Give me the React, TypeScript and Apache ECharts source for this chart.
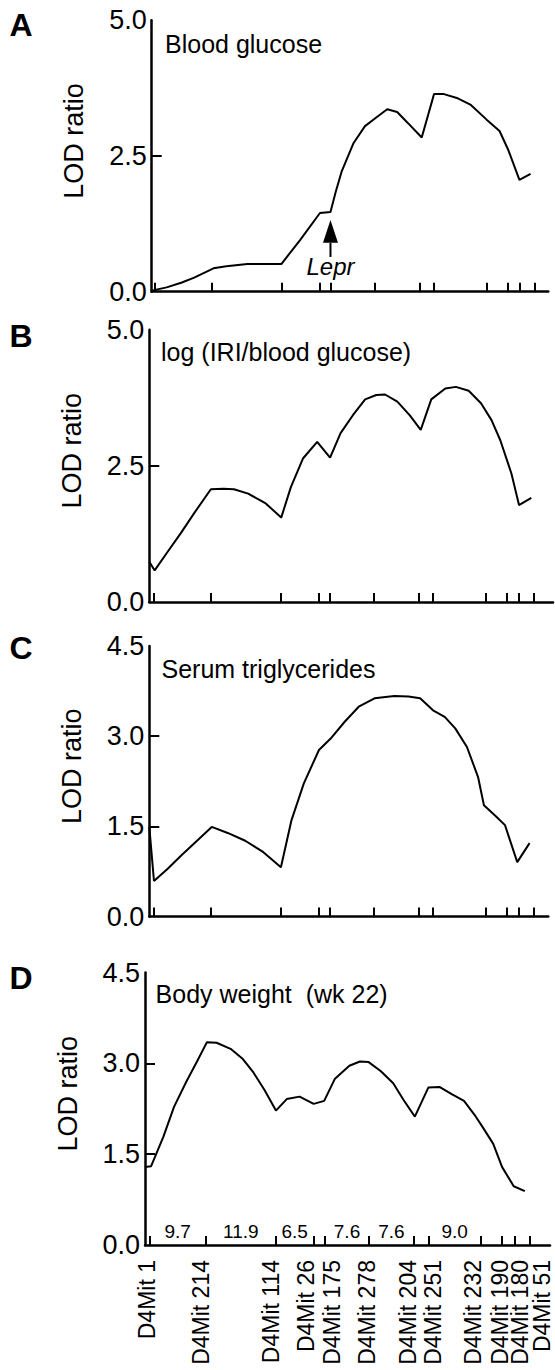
import React, { useEffect, useRef } from "react";
import * as echarts from "echarts";

// ---------- data ----------
const markerNames = [
  "D4Mit 1", "D4Mit 214", "D4Mit 114", "D4Mit 26", "D4Mit 175", "D4Mit 278",
  "D4Mit 204", "D4Mit 251", "D4Mit 232", "D4Mit 190", "D4Mit 180", "D4Mit 51",
];
const markerCM = [0, 9.7, 21.6, 28.1, 30.0, 37.6, 45.2, 47.7, 56.7, 60.3, 62.4, 65.0];

const intervalText = ["9.7", "11.9", "6.5", "7.6", "7.6", "9.0"];
const intervalFrom = [0, 1, 2, 4, 5, 7];
const intervalTo = [1, 2, 3, 5, 6, 8];

const glucoseCM = [-0.56, 2.0, 4.6, 6.7, 10.0, 12.2, 15.8, 18.5, 21.6, 24.8, 28.2, 30.0, 30.9, 31.9, 33.9, 35.9, 37.6, 39.7, 41.4, 43.3, 45.6, 47.7, 49.4, 51.6, 54.0, 56.7, 58.9, 60.4, 62.3, 64.2];
const glucoseLOD = [0.02, 0.08, 0.17, 0.26, 0.43, 0.47, 0.51, 0.51, 0.51, 0.95, 1.45, 1.47, 1.84, 2.21, 2.73, 3.05, 3.19, 3.36, 3.31, 3.10, 2.84, 3.64, 3.64, 3.57, 3.44, 3.17, 2.96, 2.61, 2.06, 2.17];

const iriCM = [-0.8, 0.12, 2.13, 4.56, 6.99, 9.72, 11.85, 13.67, 16.1, 19.1, 21.75, 23.4, 25.5, 27.9, 30.1, 31.9, 34.0, 36.1, 38.0, 39.5, 41.6, 43.7, 45.6, 47.4, 49.8, 51.6, 53.8, 55.9, 57.7, 59.2, 61.1, 62.4, 64.5];
const iriLOD = [0.74, 0.58, 0.89, 1.26, 1.65, 2.07, 2.08, 2.07, 1.99, 1.81, 1.55, 2.11, 2.64, 2.94, 2.65, 3.10, 3.43, 3.72, 3.80, 3.81, 3.68, 3.43, 3.16, 3.72, 3.92, 3.95, 3.88, 3.65, 3.34, 2.97, 2.36, 1.78, 1.91];

const tgCM = [-0.8, 0.0, 2.3, 4.7, 7.45, 9.87, 12.6, 15.6, 18.7, 21.7, 23.5, 25.6, 28.2, 30.2, 32.6, 35.0, 37.7, 41.1, 43.5, 45.5, 47.7, 49.7, 51.5, 53.5, 55.4, 56.4, 58.3, 60.0, 62.1, 64.2];
const tgLOD = [1.49, 0.59, 0.79, 1.02, 1.27, 1.49, 1.39, 1.26, 1.07, 0.82, 1.60, 2.21, 2.77, 2.96, 3.24, 3.49, 3.63, 3.67, 3.66, 3.63, 3.43, 3.32, 3.13, 2.82, 2.32, 1.85, 1.68, 1.52, 0.905, 1.22];

const bwCM = [-0.73, 0.3, 2.42, 4.23, 6.35, 8.16, 9.86, 11.5, 13.9, 16.0, 17.8, 19.7, 21.65, 23.5, 25.7, 28.1, 29.9, 31.7, 34.2, 36.0, 37.5, 39.6, 41.7, 43.5, 45.4, 47.7, 49.6, 51.7, 53.8, 55.6, 57.1, 58.8, 60.3, 62.3, 64.2];
const bwLOD = [1.29, 1.30, 1.79, 2.28, 2.70, 3.03, 3.35, 3.34, 3.24, 3.07, 2.85, 2.56, 2.22, 2.41, 2.45, 2.33, 2.38, 2.74, 2.96, 3.03, 3.02, 2.87, 2.67, 2.39, 2.12, 2.60, 2.61, 2.49, 2.38, 2.15, 1.93, 1.67, 1.29, 0.97, 0.89];

const panelTitles = ["Blood glucose", "log (IRI/blood glucose)", "Serum triglycerides", "Body weight  (wk 22)"];
const panelLetters = ["A", "B", "C", "D"];
const yMaxes = [5.0, 5.0, 4.5, 4.5];
const ySteps = [2.5, 2.5, 1.5, 1.5];
const yInnerTicks = [[2.5], [2.5], [1.5, 3.0], [1.5, 3.0]];
const yName = "LOD ratio";

const leprLabel = "Lepr";
const leprMarkerIndex = 4; // D4Mit 175
const leprArrowLOD = [0.64, 0.9, 1.32]; // stem end, head base, tip
const leprTextLOD = 0.47;
const intervalLabelLOD = 0.22;

// ---------- layout / style ----------
const FONT = "'Liberation Sans', Arial, Helvetica, sans-serif";
const PX_PER_CM = 5.85;
const GRIDS = [
  { left: 151.7, top: 20.3, width: 396.6, height: 271.4, xmin: -0.56 },
  { left: 149.3, top: 329.7, width: 403.7, height: 272.3, xmin: -0.8 },
  { left: 149.3, top: 646, width: 399, height: 270.5, xmin: -0.8 },
  { left: 145, top: 972.5, width: 405, height: 272.5, xmin: -0.73 },
];
const TITLE_POS = [[165, 44], [161, 351.7], [161.5, 669], [155.6, 994]];
const LETTER_POS = [[21, 25], [21, 336], [21, 647.5], [21, 978]];
const MARKER_LABEL_NUDGE = [-2, -5, -5, -8, 7, -2, -6, 5, -7.5, -2.5, 6, 12];

const seriesCM = [glucoseCM, iriCM, tgCM, bwCM];
const seriesLOD = [glucoseLOD, iriLOD, tgLOD, bwLOD];

export default function App() {
  const ref = useRef<HTMLDivElement | null>(null);

  useEffect(() => {
    if (!ref.current) return;
    const chart = echarts.init(ref.current, null, { renderer: "svg" });

    const option: any = {
      animation: false,
      backgroundColor: "#ffffff",
      textStyle: { fontFamily: FONT, color: "#000" },
      grid: GRIDS.map((g) => ({
        left: g.left,
        top: g.top,
        width: g.width,
        height: g.height,
        containLabel: false,
        outerBoundsMode: "none",
      })),
      xAxis: GRIDS.map((g, i) => ({
        type: "value",
        gridIndex: i,
        min: g.xmin,
        max: g.xmin + g.width / PX_PER_CM,
        axisLine: { show: true, onZero: false, lineStyle: { color: "#000", width: 2.5 } },
        axisTick: {
          show: true,
          inside: true,
          length: 9,
          customValues: markerCM,
          lineStyle: { color: "#000", width: 2 },
        },
        axisLabel: { show: false },
        splitLine: { show: false },
      })),
      yAxis: GRIDS.map((g, i) => ({
        type: "value",
        gridIndex: i,
        min: 0,
        max: yMaxes[i],
        interval: ySteps[i],
        axisLine: { show: true, onZero: false, lineStyle: { color: "#000", width: 2.5 } },
        axisTick: {
          show: true,
          inside: true,
          length: 10,
          customValues: yInnerTicks[i],
          lineStyle: { color: "#000", width: 2 },
        },
        axisLabel: {
          show: true,
          fontSize: 27,
          color: "#000",
          margin: 5,
          fontFamily: FONT,
          formatter: (v: number) => v.toFixed(1),
        },
        splitLine: { show: false },
        name: yName,
        nameLocation: "middle",
        nameRotate: 90,
        nameGap: 64,
        nameTextStyle: { fontSize: 27, color: "#000", fontFamily: FONT, padding: [0, 0, 0, 30] },
      })),
      series: seriesCM.map((cm, i) => ({
        type: "line",
        xAxisIndex: i,
        yAxisIndex: i,
        data: cm.map((x, k) => [x, seriesLOD[i][k]]),
        showSymbol: false,
        symbol: "none",
        silent: true,
        lineStyle: { color: "#000", width: 2 },
      })),
    };
    chart.setOption(option);

    const txt = (x: number, y: number, text: string, extra: any = {}, elExtra: any = {}) => ({
      type: "text",
      x,
      y,
      silent: true,
      ...elExtra,
      style: {
        text,
        fill: "#000",
        fontFamily: FONT,
        align: "left",
        textAlign: "left",
        verticalAlign: "middle",
        textVerticalAlign: "middle",
        ...extra,
      },
    });

    const graphics: any[] = [];
    panelLetters.forEach((L, i) => {
      graphics.push(
        txt(LETTER_POS[i][0], LETTER_POS[i][1], L, {
          fontSize: 32,
          fontWeight: "bold",
          align: "center",
          textAlign: "center",
        })
      );
    });
    panelTitles.forEach((t, i) => {
      graphics.push(txt(TITLE_POS[i][0], TITLE_POS[i][1], t, { fontSize: 25 }));
    });

    // Lepr arrow (panel A)
    const lx = markerCM[leprMarkerIndex];
    const pStem = chart.convertToPixel({ gridIndex: 0 }, [lx, leprArrowLOD[0]]) as number[];
    const pBase = chart.convertToPixel({ gridIndex: 0 }, [lx, leprArrowLOD[1]]) as number[];
    const pTip = chart.convertToPixel({ gridIndex: 0 }, [lx, leprArrowLOD[2]]) as number[];
    const pTxt = chart.convertToPixel({ gridIndex: 0 }, [lx, leprTextLOD]) as number[];
    graphics.push({
      type: "line",
      silent: true,
      shape: { x1: pStem[0], y1: pStem[1], x2: pBase[0], y2: pBase[1] },
      style: { stroke: "#000", lineWidth: 2 },
    });
    graphics.push({
      type: "polygon",
      silent: true,
      shape: {
        points: [
          [pTip[0], pTip[1]],
          [pBase[0] - 7.5, pBase[1]],
          [pBase[0] + 7.5, pBase[1]],
        ],
      },
      style: { fill: "#000" },
    });
    graphics.push(
      txt(pTxt[0], pTxt[1], leprLabel, {
        fontSize: 24,
        fontStyle: "italic",
        align: "center",
        textAlign: "center",
      })
    );

    // marker names under panel D
    markerNames.forEach((name, i) => {
      const p = chart.convertToPixel({ gridIndex: 3 }, [markerCM[i], 0]) as number[];
      graphics.push(
        txt(
          p[0] + MARKER_LABEL_NUDGE[i],
          p[1] + 15,
          name,
          { fontSize: 23, align: "right", textAlign: "right" },
          { rotation: Math.PI / 2 }
        )
      );
    });

    // interval distances in panel D
    intervalText.forEach((t, i) => {
      const mid = (markerCM[intervalFrom[i]] + markerCM[intervalTo[i]]) / 2;
      const p = chart.convertToPixel({ gridIndex: 3 }, [mid, intervalLabelLOD]) as number[];
      graphics.push(txt(p[0], p[1], t, { fontSize: 19, align: "center", textAlign: "center" }));
    });

    chart.setOption({ graphic: graphics });

    return () => {
      chart.dispose();
    };
  }, []);

  return (
    <div
      ref={ref}
      style={{ position: "absolute", left: 0, top: 0, width: 555, height: 1370, background: "#fff" }}
    />
  );
}
